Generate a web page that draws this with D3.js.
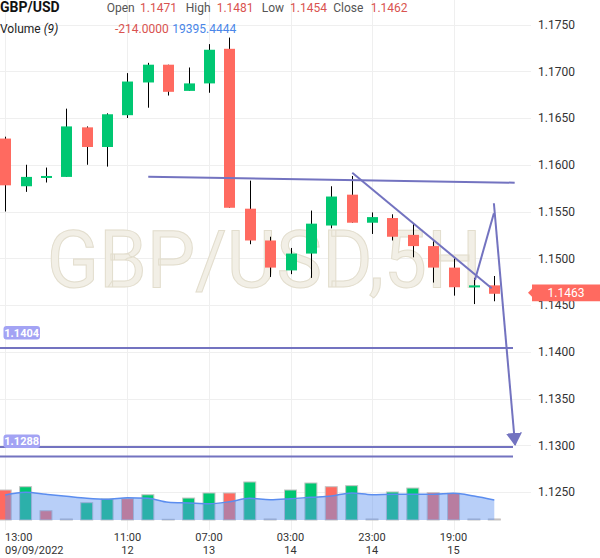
<!DOCTYPE html>
<html>
<head>
<meta charset="utf-8">
<script src="https://cdn.jsdelivr.net/npm/d3@7"></script>
<style>
  body { margin: 0; background: #fff; }
  svg { display: block; font-family: Roboto, "Noto Sans", sans-serif; }
</style>
</head>
<body>
<div id="chart"></div>
<script>
// ── GBP/USD 5H candles, volume and MA(9) ──────────────────────────────
const times = [
  '09/09 13:00', '09/09 18:00', '09/11 20:00', '09/12 01:00', '09/12 06:00',
  '09/12 11:00', '09/12 16:00', '09/12 21:00', '09/13 02:00', '09/13 07:00',
  '09/13 12:00', '09/13 17:00', '09/13 22:00', '09/14 03:00', '09/14 08:00',
  '09/14 13:00', '09/14 18:00', '09/14 23:00', '09/15 04:00', '09/15 09:00',
  '09/15 14:00', '09/15 19:00', '09/16 00:00', '09/16 05:00', '09/16 10:00'
];
const opens  = [1.1628, 1.1577, 1.1586, 1.1587, 1.1640, 1.1619, 1.1653, 1.1688, 1.1707, 1.1679,
                1.1687, 1.1724, 1.1553, 1.1519, 1.1487, 1.1505, 1.1535, 1.1568, 1.1538, 1.1543,
                1.1525, 1.1513, 1.1490, 1.1469, 1.1471];
const highs  = [1.1630, 1.1600, 1.1597, 1.1660, 1.1641, 1.1655, 1.1698, 1.1709, 1.1707, 1.1704,
                1.1729, 1.1736, 1.1583, 1.1523, 1.1511, 1.1551, 1.1577, 1.1588, 1.1549, 1.1547,
                1.1537, 1.1518, 1.1500, 1.1479, 1.1481];
const lows   = [1.1550, 1.1571, 1.1581, 1.1587, 1.1600, 1.1598, 1.1650, 1.1661, 1.1674, 1.1679,
                1.1677, 1.1554, 1.1515, 1.1480, 1.1483, 1.1479, 1.1532, 1.1538, 1.1526, 1.1519,
                1.1501, 1.1474, 1.1460, 1.1451, 1.1454];
const closes = [1.1578, 1.1587, 1.1588, 1.1641, 1.1619, 1.1654, 1.1689, 1.1707, 1.1678, 1.1687,
                1.1723, 1.1554, 1.1519, 1.1490, 1.1505, 1.1537, 1.1566, 1.1538, 1.1544, 1.1523,
                1.1513, 1.1490, 1.1469, 1.1471, 1.1462];

const volumes  = [29100, 32300, 9000, 1000, 16800, 20400, 20700, 24500, 700, 21300,
                  26200, 26200, 36900, 1000, 29100, 35900, 32300, 33300, 1000, 27200,
                  31000, 26500, 25900, 1000, 1000];
const volumeUp = [false, true, false, false, true, true, false, true, false, true,
                  true, false, true, false, true, true, false, true, false, true,
                  true, false, false, false, false];
const volumeMA = [24250, 26870, 24930, 22990, 21050, 20080, 21630, 21050, 17170, 16490,
                  15810, 17750, 21050, 19690, 20660, 22020, 23280, 26190, 24540, 24930,
                  24930, 24930, 25900, 23280, 19395.4444];
const lastVolumeDelta = -214;

const priceTicks = [1.125, 1.130, 1.135, 1.140, 1.145, 1.150, 1.155, 1.160, 1.165, 1.170, 1.175];
const tickIndex = [0, 6, 10, 14, 18, 22];
const tickTime  = ['13:00', '11:00', '07:00', '03:00', '23:00', '19:00'];
const tickDate  = ['09/09/2022', '12', '13', '14', '14', '15'];

// user drawings: [index, price] pairs
const trendLines = [
  [[7.02, 1.15872], [25.0, 1.15808]],
  [[17.03, 1.15915], [23.87, 1.14679]],
  [[23.05, 1.14767], [23.98, 1.15481]]
];
const arrowLine = [[23.98, 1.15588], [25.02, 1.13003]];
const levelLines = [1.1404, 1.1298, 1.1288];
const levelLabels = [[1.1404, '1.1404'], [1.1288, '1.1288']];
const lastPrice = 1.1463;

// ── layout ──
const W = 600, H = 558, plotRight = 531, volBase = 520;
const UP = '#00c772', DOWN = '#ff6a60', DRAW = '#7373c0';

const svg = d3.select('#chart').append('svg').attr('width', W).attr('height', H);

const x = d3.scaleLinear().domain([0, 24]).range([5.2, 494.3]);
const y = d3.scaleLinear().domain([1.125, 1.175]).range([492, 24.5]);
const yVol = d3.scaleLinear().domain([0, 48500]).range([volBase, 470]);

// grid
const grid = svg.append('g').attr('stroke', '#efefef').attr('stroke-width', 1);
grid.selectAll('.hg').data(priceTicks).enter().append('line')
  .attr('x1', 0).attr('x2', plotRight)
  .attr('y1', d => Math.round(y(d)) + 0.5).attr('y2', d => Math.round(y(d)) + 0.5);
grid.selectAll('.vg').data(tickIndex).enter().append('line')
  .attr('x1', d => Math.round(x(d)) + 0.5).attr('x2', d => Math.round(x(d)) + 0.5)
  .attr('y1', 0).attr('y2', 530);

// watermark
svg.append('text')
  .attr('x', 46.7).attr('y', 286.7)
  .attr('font-size', 80)
  .attr('textLength', 435).attr('lengthAdjust', 'spacingAndGlyphs')
  .attr('fill', '#f2efe6').attr('stroke', '#e2ddcd').attr('stroke-width', 1)
  .text('GBP/USD,5H');

// volume bars
svg.append('g').selectAll('rect').data(volumes).enter().append('rect')
  .attr('x', (d, i) => x(i) - 6)
  .attr('width', 12)
  .attr('y', d => yVol(d))
  .attr('height', d => volBase - yVol(d))
  .attr('fill', (d, i) => volumeUp[i] ? UP : DOWN)
  .attr('stroke', '#c4c4c4').attr('stroke-width', 1);

// volume MA area + line
const area = d3.area().x((d, i) => x(i)).y0(volBase).y1(d => yVol(d)).curve(d3.curveMonotoneX);
const line = d3.line().x((d, i) => x(i)).y(d => yVol(d)).curve(d3.curveMonotoneX);
svg.append('path').datum(volumeMA).attr('d', area).attr('fill', 'rgba(98,148,240,0.45)');
svg.append('path').datum(volumeMA).attr('d', line)
  .attr('fill', 'none').attr('stroke', '#5b8def').attr('stroke-width', 1.5);

// candles
const candles = svg.append('g').selectAll('g').data(opens).enter().append('g');
candles.append('line')
  .attr('x1', (d, i) => Math.round(x(i)) + 0.5).attr('x2', (d, i) => Math.round(x(i)) + 0.5)
  .attr('y1', (d, i) => y(highs[i])).attr('y2', (d, i) => y(lows[i]))
  .attr('stroke', '#000').attr('stroke-width', 1);
candles.append('rect')
  .attr('x', (d, i) => Math.round(x(i)) - 5)
  .attr('width', 11)
  .attr('y', (d, i) => y(Math.max(d, closes[i])))
  .attr('height', (d, i) => Math.max(2, Math.abs(y(d) - y(closes[i]))))
  .attr('fill', (d, i) => closes[i] >= d ? UP : DOWN);

// drawings
const defs = svg.append('defs');
defs.append('marker')
  .attr('id', 'arrow').attr('markerUnits', 'userSpaceOnUse')
  .attr('viewBox', '0 -8 13 16').attr('markerWidth', 13).attr('markerHeight', 16)
  .attr('refX', 12).attr('refY', 0).attr('orient', 'auto')
  .append('path').attr('d', 'M0,-8L13,0L0,8Z').attr('fill', DRAW);

const draw = svg.append('g').attr('stroke', DRAW).attr('stroke-width', 2).attr('fill', 'none');
draw.selectAll('.lvl').data(levelLines).enter().append('line')
  .attr('x1', 0).attr('x2', 513)
  .attr('y1', d => y(d)).attr('y2', d => y(d));
draw.selectAll('.tl').data(trendLines).enter().append('line')
  .attr('x1', d => x(d[0][0])).attr('y1', d => y(d[0][1]))
  .attr('x2', d => x(d[1][0])).attr('y2', d => y(d[1][1]));
draw.append('line')
  .attr('x1', x(arrowLine[0][0])).attr('y1', y(arrowLine[0][1]))
  .attr('x2', x(arrowLine[1][0])).attr('y2', y(arrowLine[1][1]))
  .attr('marker-end', 'url(#arrow)');

// level labels
const lv = svg.append('g').selectAll('g').data(levelLabels).enter().append('g')
  .attr('transform', d => `translate(3.5, ${y(d[0]) - 22})`);
lv.append('rect').attr('width', 36.5).attr('height', 13.5).attr('rx', 3).attr('fill', '#a3a3f4');
lv.append('text').attr('x', 18.2).attr('y', 10.6).attr('text-anchor', 'middle')
  .attr('font-size', 11).attr('font-weight', 'bold').attr('fill', '#fff')
  .text(d => d[1]);

// price axis
svg.append('g').selectAll('text').data(priceTicks).enter().append('text')
  .attr('x', 538).attr('y', d => y(d) + 4.3)
  .attr('font-size', 12).attr('fill', '#333')
  .text(d => d.toFixed(4));

// last price tag
const ly = y(lastPrice);
svg.append('path')
  .attr('d', `M528,${ly} L532,${ly - 4} L532,${ly - 8.3} L600,${ly - 8.3} L600,${ly + 8.3} L532,${ly + 8.3} L532,${ly + 4} Z`)
  .attr('fill', DOWN);
svg.append('text').attr('x', 566).attr('y', ly + 4.3).attr('text-anchor', 'middle')
  .attr('font-size', 12).attr('fill', '#fff').text(lastPrice.toFixed(4));

// time axis
const xl = svg.append('g').selectAll('g').data(tickIndex).enter().append('g');
xl.append('text')
  .attr('x', (d, i) => i === 0 ? 5 : x(d))
  .attr('y', 541)
  .attr('text-anchor', (d, i) => i === 0 ? 'start' : 'middle')
  .attr('font-size', 11).attr('fill', '#333')
  .text((d, i) => tickTime[i]);
xl.append('text')
  .attr('x', (d, i) => i === 0 ? 5 : x(d))
  .attr('y', 553.5)
  .attr('text-anchor', (d, i) => i === 0 ? 'start' : 'middle')
  .attr('font-size', 11).attr('fill', '#333')
  .text((d, i) => tickDate[i]);

// header
const n = opens.length - 1;
const hdr = svg.append('text').attr('y', 12).attr('font-size', 12);
hdr.append('tspan').attr('x', 0).attr('font-size', 14).attr('font-weight', 'bold').attr('fill', '#111').text('GBP/USD');
[['Open', 106.7, 140, opens[n]], ['High', 185.7, 216.7, highs[n]],
 ['Low', 261.7, 290, lows[n]], ['Close', 333.3, 370.7, closes[n]]].forEach(h => {
  hdr.append('tspan').attr('x', h[1]).attr('fill', '#555').text(h[0]);
  hdr.append('tspan').attr('x', h[2]).attr('fill', '#d9534f').text(h[3].toFixed(4));
});
const vh = svg.append('text').attr('y', 33).attr('font-size', 12);
vh.append('tspan').attr('x', 0).attr('fill', '#222').text('Volume ');
vh.append('tspan').attr('font-style', 'italic').attr('fill', '#222').text('(9)');
vh.append('tspan').attr('x', 115).attr('fill', '#d9534f').text(lastVolumeDelta.toFixed(4));
vh.append('tspan').attr('x', 172.3).attr('fill', '#4a86e8').text(volumeMA[n].toFixed(4));
</script>
</body>
</html>
